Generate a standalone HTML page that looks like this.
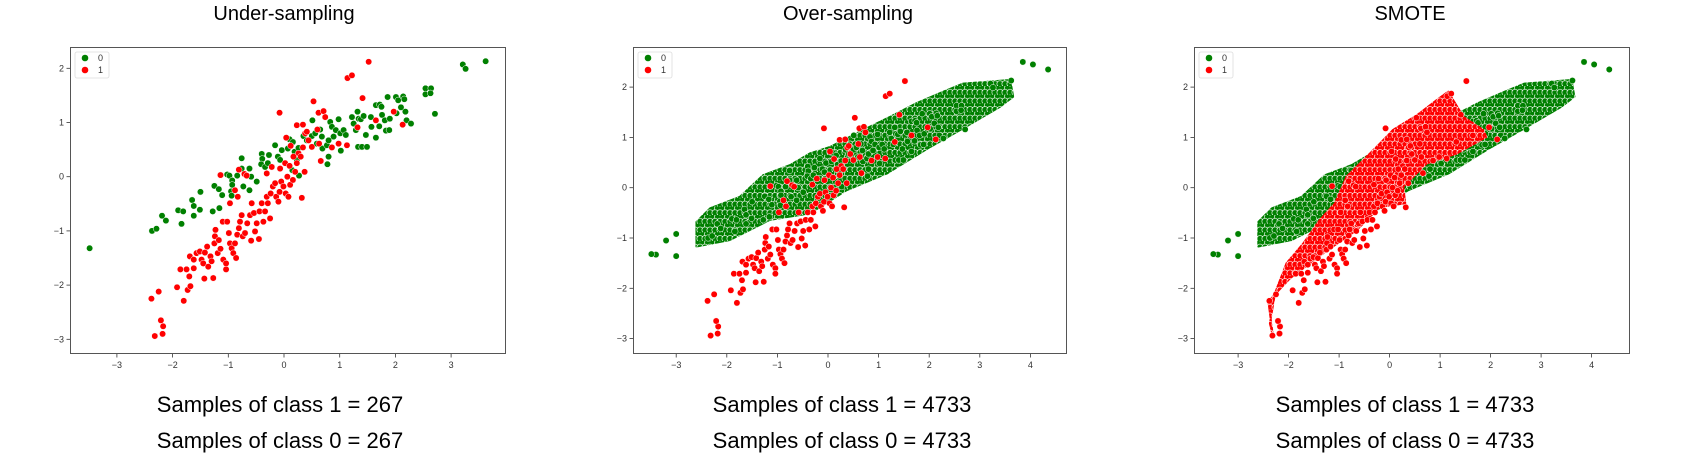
<!DOCTYPE html>
<html><head><meta charset="utf-8">
<style>
html,body{margin:0;padding:0;background:#fff;}
body{width:1686px;height:456px;overflow:hidden;position:relative;font-family:"Liberation Sans",sans-serif;}
.title{position:absolute;top:3px;font-size:20px;color:#000;transform:translateX(-50%);white-space:nowrap;}
.cnt{position:absolute;font-size:22px;color:#000;transform:translateX(-50%);white-space:nowrap;}
</style></head>
<body>
<div class="title" style="left:284px">Under-sampling</div>
<div class="title" style="left:848px">Over-sampling</div>
<div class="title" style="left:1410px">SMOTE</div>
<div class="cnt" style="left:280px;top:392px">Samples of class 1 = 267</div>
<div class="cnt" style="left:280px;top:428px">Samples of class 0 = 267</div>
<div class="cnt" style="left:842px;top:392px">Samples of class 1 = 4733</div>
<div class="cnt" style="left:842px;top:428px">Samples of class 0 = 4733</div>
<div class="cnt" style="left:1405px;top:392px">Samples of class 1 = 4733</div>
<div class="cnt" style="left:1405px;top:428px">Samples of class 0 = 4733</div>
<svg id="chart" width="1686" height="456" style="position:absolute;left:0;top:0" xmlns="http://www.w3.org/2000/svg"></svg>
<script>
const greenPx = [[120,655],[307,603],[320,597],[336,557],[348,572],[384,541],[399,544],[395,581],[427,510],[431,528],[432,558],[449,540],[452,485],[489,545],[493,468],[506,478],[508,534],[517,495],[531,433],[538,436],[546,452],[546,465],[543,484],[545,497],[575,385],[575,415],[562,437],[580,470],[598,415],[603,440],[599,481],[620,455],[636,372],[637,387],[634,403],[645,410],[653,400],[675,345],[657,375],[683,380],[690,390],[696,360],[713,355],[718,328],[728,335],[733,365],[745,353],[740,390],[727,420],[747,437],[760,318],[770,330],[787,270],[785,317],[795,310],[800,340],[810,298],[815,320],[818,355],[830,345],[835,330],[840,275],[832,402],[836,380],[846,290],[850,320],[858,300],[865,268],[870,310],[872,362],[880,300],[888,315],[905,260],[910,280],[918,300],[922,245],[925,265],[933,268],[940,258],[924,350],[935,350],[950,350],[947,315],[962,260],[965,290],[977,225],[977,322],[990,224],[995,230],[988,288],[996,254],[1005,270],[1008,302],[1013,200],[1018,300],[1020,265],[1038,200],[1045,210],[1052,232],[1060,198],[1063,207],[1040,250],[1070,270],[1082,280],[1066,245],[1127,174],[1143,174],[1127,192],[1142,189],[1154,251],[1238,103],[1246,115],[1307,93]];
const redPx = [[305,806],[326,785],[315,920],[338,912],[340,890],[333,872],[382,772],[401,813],[413,780],[422,770],[392,718],[409,718],[418,740],[419,680],[432,715],[432,690],[440,670],[450,665],[455,690],[460,700],[465,668],[463,746],[471,650],[475,710],[481,680],[485,695],[490,745],[493,640],[495,620],[497,600],[503,670],[507,630],[512,657],[518,575],[520,690],[528,700],[532,575],[529,718],[536,610],[540,640],[545,655],[550,670],[555,640],[559,685],[562,615],[566,595],[570,575],[575,555],[578,620],[585,610],[592,580],[600,555],[603,632],[605,520],[612,550],[615,605],[620,580],[627,627],[628,545],[635,520],[640,575],[645,545],[650,500],[653,520],[660,566],[662,490],[668,470],[675,460],[678,500],[685,515],[688,485],[693,455],[700,470],[707,490],[712,440],[716,500],[720,465],[728,450],[735,425],[740,400],[745,370],[752,380],[758,352],[765,310],[770,305],[775,330],[786,350],[790,213],[805,248],[820,243],[803,298],[808,340],[812,392],[826,260],[845,352],[866,340],[890,345],[892,144],[906,136],[923,292],[937,203],[956,95],[978,270],[1031,245],[1058,283],[512,435],[566,418],[583,432],[590,436],[555,480],[540,520],[563,500],[755,503],[763,425],[688,247],[709,322],[741,285],[758,283],[722,347],[650,430],[665,410],[690,415],[705,400],[718,408],[730,380]];
// converted into data values
const class0X = greenPx.map(p => +((p[0]-702)/167).toFixed(2));
const class0Y = greenPx.map(p => +((440-p[1])/163).toFixed(2));
const class1X = redPx.map(p => +((p[0]-702)/167).toFixed(2));
const class1Y = redPx.map(p => +((440-p[1])/163).toFixed(2));
// extra class-0 outliers in oversampled sets
const extra0X = [-3.4,-3.2,-3.0,-3.0,3.85,4.05,4.35];
const extra0Y = [-1.33,-1.05,-0.92,-1.36,2.5,2.45,2.35];
// dense cloud outlines (data coords)
const bandX = [-2.6,-1.94,-1.15,-0.36,0.37,1.16,2.02,2.67,3.4,3.66,3.6,2.67,2.28,1.75,1.23,0.7,0.04,-0.36,-0.75,-1.28,-1.74,-2.33,-2.6];
const bandY = [-1.17,-1.04,-0.64,-0.51,-0.05,0.28,0.81,1.18,1.61,1.81,2.14,2.07,1.91,1.68,1.41,1.15,0.81,0.68,0.45,0.25,-0.18,-0.41,-0.68];
const smoteX = [-2.31,-2.4,-1.97,-1.31,-0.65,-0.19,0.31,0.27,0.73,1.33,1.92,1.85,1.46,1.26,1.16,0.93,0.54,0.07,-0.19,-0.52,-0.85,-1.08,-1.38,-1.71,-2.04,-2.27,-2.37];
const smoteY = [-2.95,-2.26,-1.8,-1.3,-0.84,-0.38,-0.31,0.02,0.48,0.68,1.01,1.15,1.41,1.74,1.91,1.74,1.44,1.15,0.88,0.55,0.22,-0.31,-0.64,-1.11,-1.5,-2.1,-2.7];
const yTicks = [-3,-2,-1,0,1,2];
const xTicks1 = [-3,-2,-1,0,1,2,3];
const xTicks2 = [-3,-2,-1,0,1,2,3,4];

const NS='http://www.w3.org/2000/svg';
const svg=document.getElementById('chart');
function mk(tag,attrs,parent){const e=document.createElementNS(NS,tag);for(const k in attrs)e.setAttribute(k,attrs[k]);(parent||svg).appendChild(e);return e;}
const defs=mk('defs',{});
function pattern(id,color){
  const p=mk('pattern',{id:id,patternUnits:'userSpaceOnUse',width:10,height:8.6},defs);
  [[2.5,2.1],[7.5,2.1],[0,6.4],[5,6.4],[10,6.4]].forEach(c=>mk('circle',{cx:c[0],cy:c[1],r:3.1,fill:color,stroke:'#fff','stroke-width':0.6},p));
}
pattern('pg','#008000');pattern('pr','#ff0000');

const panels=[
 {name:'under',L:70,R:506,T:47,B:354,x0:284,xs:55.7,y0:176.7,ys:54.2,xt:xTicks1,mode:0},
 {name:'over',L:633,R:1067,T:47,B:354,x0:828,xs:50.6,y0:187.7,ys:50.3,xt:xTicks2,mode:1},
 {name:'smote',L:1194,R:1630,T:47,B:354,x0:1389.6,xs:50.5,y0:187.7,ys:50.3,xt:xTicks2,mode:2}
];
panels.forEach(P=>{
  const sx=v=>P.x0+v*P.xs, sy=v=>P.y0-v*P.ys;
  const g=mk('g',{});
  
  
  mk('rect',{x:P.L,y:P.T,width:P.R-P.L,height:P.B-P.T,fill:'#fff'},g);
  function dot(x,y,c){const d=mk('circle',{cx:sx(x),cy:sy(y),r:3.2,fill:c,stroke:'#fff','stroke-width':0.5},g);
    
    }
  function poly(xs,ys,fill,nm){const pts=xs.map((x,i)=>sx(x)+','+sy(ys[i])).join(' ');
    const p=mk('polygon',{points:pts,fill:fill,stroke:fill,'stroke-width':2,'stroke-linejoin':'round'},g);
    
    }
  if(P.mode>0){
    extra0X.forEach((x,i)=>dot(x,extra0Y[i],'#008000'));
    poly(bandX,bandY,'url(#pg)','class0-dense-cloud');
  }
  class0X.forEach((x,i)=>dot(x,class0Y[i],'#008000'));
  if(P.mode===2) poly(smoteX,smoteY,'url(#pr)','class1-synthetic-cloud');
  class1X.forEach((x,i)=>dot(x,class1Y[i],'#ff0000'));
  // frame
  const f=mk('rect',{x:P.L+0.5,y:P.T+0.5,width:P.R-P.L-1,height:P.B-P.T-1,fill:'none',stroke:'#555','stroke-width':1},g);
  
  
  yTicks.forEach(t=>{const y=sy(t);
    mk('line',{x1:P.L-3.5,x2:P.L,y1:y,y2:y,stroke:'#333','stroke-width':0.8},g);
    const tx=mk('text',{x:P.L-6,y:y+3,'font-size':9,'text-anchor':'end',fill:'#333','font-family':'Liberation Sans, sans-serif'},g);
    tx.textContent=t<0?'\u2212'+(-t):t;
    
    });
  P.xt.forEach(t=>{const x=sx(t);
    mk('line',{x1:x,x2:x,y1:P.B,y2:P.B+3.5,stroke:'#333','stroke-width':0.8},g);
    const tx=mk('text',{x:x,y:P.B+14,'font-size':9,'text-anchor':'middle',fill:'#333','font-family':'Liberation Sans, sans-serif'},g);
    tx.textContent=t<0?'\u2212'+(-t):t;
    
    });
  // legend
  const lg=mk('g',{},g);
  
  
  mk('rect',{x:P.L+5,y:P.T+5,width:34,height:26,rx:2,fill:'#fff',stroke:'#ddd','stroke-width':0.8},lg);
  [['0','#008000',P.T+11],['1','#ff0000',P.T+23]].forEach(e=>{
    mk('circle',{cx:P.L+15,cy:e[2],r:3.3,fill:e[1]},lg);
    const t=mk('text',{x:P.L+28,y:e[2]+3,'font-size':9,fill:'#333','font-family':'Liberation Sans, sans-serif'},lg);
    t.textContent=e[0];
    
    
  });
});
</script>
</body></html>
